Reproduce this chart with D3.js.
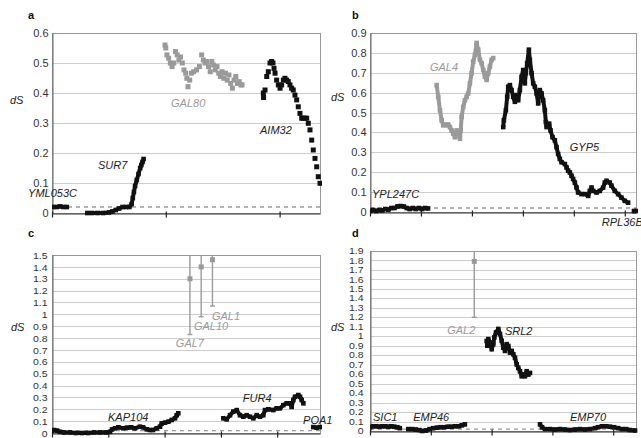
<!DOCTYPE html>
<html>
<head>
<meta charset="utf-8">
<script src="https://cdn.jsdelivr.net/npm/d3@7"></script>
<style>
  body { margin: 0; background: #fff; }
  text { font-family: "Liberation Sans", Arial, sans-serif; }
</style>
</head>
<body>
<div id="fig"></div>
<script>
// ---- data: [position, dS] ----
// panel a
var aYML053C = [[0.1,0.02],[0.4,0.02],[0.7,0.022],[1.0,0.02],[1.3,0.02]];
var aSUR7 = [[3.1,0],[3.5,0],[4.0,0],[4.5,0],[5.0,0.002],[5.3,0.005],[5.6,0.01],[5.9,0.015],[6.2,0.02],[6.5,0.02],
  [6.8,0.02],[7.0,0.03],[7.1,0.05],[7.2,0.07],[7.3,0.09],[7.45,0.11],[7.6,0.13],[7.75,0.15],[7.85,0.16],[7.95,0.17],[8.05,0.18]];
var aGAL80 = [[9.93,0.56],[10.0,0.55],[10.1,0.527],[10.25,0.516],[10.4,0.5],[10.55,0.488],[10.7,0.5],[10.85,0.538],
  [11.0,0.527],[11.15,0.51],[11.3,0.52],[11.45,0.5],[11.6,0.477],[11.75,0.466],[11.85,0.449],[11.95,0.421],[12.1,0.443],
  [12.25,0.466],[12.45,0.471],[12.7,0.477],[12.95,0.488],[13.15,0.527],[13.3,0.51],[13.45,0.5],[13.6,0.505],[13.75,0.488],
  [13.9,0.471],[14.05,0.505],[14.2,0.493],[14.35,0.477],[14.5,0.488],[14.65,0.466],[14.8,0.455],[14.95,0.471],[15.1,0.449],
  [15.25,0.466],[15.4,0.443],[15.55,0.46],[15.7,0.432],[15.85,0.416],[16.0,0.443],[16.15,0.455],[16.3,0.432],[16.45,0.438],
  [16.6,0.427],[16.7,0.427]];
var aAIM32 = [[18.57,0.4],[18.59,0.385],[18.72,0.41],[18.87,0.455],[19.01,0.471],[19.16,0.5],[19.3,0.505],[19.42,0.5],
  [19.51,0.482],[19.6,0.466],[19.74,0.443],[19.89,0.427],[20.04,0.416],[20.18,0.427],[20.33,0.443],[20.47,0.449],[20.62,0.443],
  [20.76,0.438],[20.91,0.427],[21.06,0.416],[21.2,0.41],[21.35,0.393],[21.5,0.377],[21.64,0.354],[21.79,0.332],[21.94,0.316],
  [22.08,0.316],[22.23,0.316],[22.38,0.316],[22.52,0.299],[22.67,0.277],[22.82,0.243],[22.96,0.21],[23.11,0.182],[23.26,0.154],
  [23.4,0.121],[23.55,0.099]];

// panel b
var bYPL247C = [[0,0.005],[0.6,0.01],[1.2,0.005],[1.8,0.01],[2.4,0.008],[3.0,0.015],[3.6,0.012],[4.2,0.02],[4.8,0.02],
  [5.4,0.028],[6.0,0.03],[6.6,0.028],[7.2,0.02],[7.8,0.015],[8.4,0.02],[9.0,0.015],[9.6,0.02],[10.2,0.015],[10.8,0.02],[11.4,0.018]];
var bGAL4 = [[13.08,0.638],[13.39,0.579],[13.73,0.512],[14.06,0.461],[14.37,0.436],[14.71,0.44],[15.04,0.436],[15.35,0.44],
  [15.69,0.427],[16.02,0.41],[16.33,0.394],[16.67,0.376],[17.0,0.41],[17.31,0.394],[17.65,0.368],[17.8,0.41],[17.98,0.478],
  [18.29,0.528],[18.63,0.562],[18.96,0.579],[19.27,0.596],[19.61,0.647],[19.94,0.698],[20.25,0.756],[20.59,0.79],[20.92,0.85],
  [21.24,0.816],[21.57,0.765],[21.9,0.748],[22.22,0.714],[22.55,0.68],[22.88,0.664],[23.2,0.698],[23.53,0.731],[23.86,0.765],[24.18,0.774]];
var bGYP5 = [[26.14,0.427],[26.27,0.461],[26.67,0.512],[26.92,0.579],[27.12,0.63],[27.45,0.638],[27.78,0.613],[28.1,0.579],
  [28.43,0.554],[28.76,0.588],[29.08,0.562],[29.41,0.613],[29.75,0.68],[30.06,0.714],[30.39,0.647],[30.59,0.698],[30.84,0.748],
  [31.18,0.816],[31.37,0.765],[31.71,0.698],[32.02,0.647],[32.35,0.63],[32.69,0.596],[33.0,0.546],[33.33,0.613],[33.67,0.596],
  [33.98,0.562],[34.31,0.512],[34.51,0.452],[34.65,0.427],[35.16,0.444],[35.43,0.41],[35.82,0.376],[36.27,0.36],[36.61,0.326],
  [36.92,0.292],[37.25,0.267],[37.59,0.25],[38.24,0.241],[38.57,0.224],[38.88,0.208],[39.22,0.199],[39.55,0.182],[39.86,0.166],
  [40.2,0.148],[40.53,0.123],[40.84,0.098],[41.51,0.09],[42.16,0.09],[42.82,0.081],[43.14,0.106],[43.47,0.123],[43.8,0.106],
  [44.45,0.098],[45.1,0.106],[45.75,0.123],[46.08,0.148],[46.41,0.157],[47.06,0.148],[47.39,0.132],[48.04,0.106],[48.69,0.09],
  [49.35,0.072],[50.0,0.056],[50.65,0.047]];
var bRPL36B = [[51.8,0.005],[52.2,0.005]];

// panel c
var cKAP104 = [[0,0.02],[0.36,0.025],[0.9,0.02],[1.42,0.01],[2.13,0.005],[3.2,0.005],[4.26,0],[5.33,0],[6.39,0],[7.46,0.005],
  [8.53,0.005],[9.59,0.005],[10.3,0.01],[10.66,0.03],[11.19,0.04],[11.78,0.048],[12.66,0.04],[13.32,0.045],[14.03,0.048],
  [14.74,0.04],[15.63,0.053],[16.16,0.048],[16.82,0.031],[17.41,0.025],[17.94,0.025],[18.6,0.04],[19.18,0.053],[19.48,0.08],
  [20.07,0.087],[20.66,0.095],[21.26,0.11],[21.85,0.124],[22.15,0.15],[22.43,0.166]];
var cFUR4 = [[30.43,0.124],[31.03,0.115],[31.62,0.15],[32.2,0.18],[32.81,0.193],[33.39,0.15],[33.98,0.137],[34.58,0.15],
  [35.17,0.137],[35.76,0.124],[36.36,0.15],[36.94,0.137],[37.53,0.15],[37.83,0.193],[38.42,0.2],[39.31,0.193],[39.91,0.208],
  [40.5,0.208],[41.08,0.235],[41.69,0.25],[42.27,0.25],[42.57,0.22],[42.86,0.278],[43.16,0.305],[43.75,0.32],[44.05,0.305],
  [44.35,0.278],[44.65,0.25]];
var cPOA1 = [[46.4,0.05],[47.0,0.045],[47.6,0.05]];
// gray genes with error bars: [position, mean, low, high]
var cGAL = [[24.5,1.30,0.83,1.77],[26.5,1.40,0.98,1.82],[28.5,1.46,1.07,1.85]];

// panel d
var dSIC1 = [[0,0.04],[0.5,0.05],[1.0,0.05],[1.5,0.045],[2.0,0.05],[2.5,0.05],[3.0,0.045],[3.5,0.05],[4.0,0.045],[4.5,0.04],[4.9,0.03]];
var dEMP46 = [[6.3,0.02],[6.9,0.02],[7.5,0.015],[8.1,0.01],[8.6,0],[9.2,0.005],[9.8,0.02],[10.4,0.03],[11.0,0.035],[11.6,0.04],
  [12.2,0.04],[12.8,0.045],[13.4,0.045],[14.0,0.05],[14.6,0.05],[15.1,0.06],[15.6,0.07]];
var dSRL2 = [[19.19,0.95],[19.29,0.9],[19.46,0.97],[19.74,0.934],[20.02,0.863],[20.28,0.917],[20.44,0.987],[20.72,1.04],
  [21.1,1.077],[21.38,1.024],[21.66,0.952],[21.92,0.88],[22.2,0.845],[22.48,0.917],[22.75,0.898],[23.03,0.827],[23.31,0.845],
  [23.57,0.81],[23.85,0.773],[24.13,0.703],[24.39,0.666],[24.67,0.631],[24.95,0.578],[25.21,0.596],[25.49,0.578],[25.77,0.631],
  [26.04,0.596],[26.32,0.613]];
var dEMP70 = [[27.96,0.07],[28.29,0.04],[28.78,0.02],[29.6,0.02],[30.43,0.015],[31.25,0.02],[32.07,0.015],[32.89,0.01],
  [33.72,0.015],[34.54,0.02],[35.36,0.015],[36.18,0.02],[37.0,0.03],[37.5,0.04],[38.16,0.05],[38.82,0.05],[39.47,0.045],
  [40.13,0.04],[40.79,0.03],[41.45,0.02],[42.1,0.02],[42.76,0.01],[43.59,0.005]];
var dGAL = [[17.15,1.79,1.2,2.38]];

// gene labels: [name, position, dS, grey?]
var aLabels = [["YML053C",-2.1,0.067,0],["SUR7",4.04,0.16,0],["GAL80",10.46,0.367,1],["AIM32",18.28,0.277,0]];
var bLabels = [["YPL247C",0.4,0.092,0],["GAL4",11.76,0.73,1],["GYP5",39.2,0.325,0],["RPL36B",45.5,-0.05,0]];
var cLabels = [["KAP104",9.95,0.135,0],["FUR4",33.9,0.294,0],["POA1",44.6,0.109,0],["GAL1",28.4,0.99,1],["GAL10",25.2,0.9,1],["GAL7",22.0,0.757,1]];
var dLabels = [["SIC1",0.5,0.148,0],["EMP46",7.1,0.148,0],["EMP70",32.9,0.148,0],["GAL2",12.7,1.07,1],["SRL2",22.2,1.06,0]];

// tick values
var aYTicks = d3.range(0, 7).map(d => d / 10);
var bYTicks = d3.range(0, 10).map(d => d / 10);
var cYTicks = d3.range(0, 16).map(d => d / 10);
var dYTicks = d3.range(0, 20).map(d => d / 10);
var aXTicks = [0, 10, 20];
var bXTicks = [0, 10, 20, 30, 40, 50];
var cXTicks = [0, 10, 20, 30, 40];
var dXTicks = [0, 10, 20, 30, 40];
var neutralDS = 0.02;

var black = "#111", grey = "#9a9a9a";

var panels = [
  {id:"a", left:52, right:320, top:33, bottom:213, xMax:23.55, yMax:0.6, yTicks:aYTicks, xTicks:aXTicks, pad:4, fs:11, squash:1,
   letter:[28,19], ds:[10,104],
   series:[{d:aYML053C},{d:aSUR7},{d:aGAL80,c:grey,noLine:1},{d:aAIM32,noLine:1}], bars:[], labels:aLabels},
  {id:"b", left:370, right:636, top:33, bottom:212, xMax:52.2, yMax:0.9, yTicks:bYTicks, xTicks:bXTicks, pad:4, fs:11, squash:1,
   letter:[352,19], ds:[331,101],
   series:[{d:bYPL247C},{d:bGAL4,c:grey},{d:bGYP5},{d:bRPL36B}], bars:[], labels:bLabels},
  {id:"c", left:52, right:320, top:255, bottom:433, xMax:47.6, yMax:1.5, yTicks:cYTicks, xTicks:cXTicks, pad:5, fs:10.5, squash:0.95,
   letter:[28,237], ds:[11,331],
   series:[{d:cKAP104},{d:cFUR4},{d:cPOA1}], bars:cGAL, labels:cLabels},
  {id:"d", left:370, right:636, top:251, bottom:431, xMax:43.75, yMax:1.9, yTicks:dYTicks, xTicks:dXTicks, pad:7, fs:10.5, squash:0.78,
   letter:[352,237], ds:[331,331],
   series:[{d:dSIC1},{d:dEMP46},{d:dSRL2},{d:dEMP70}], bars:dGAL, labels:dLabels}
];

var svg = d3.select("#fig").append("svg")
  .attr("width", 641)
  .attr("height", 438);

var fmt = d => d3.format("~g")(+d.toFixed(1));

panels.forEach(function(p) {
  var x = d3.scaleLinear().domain([0, p.xMax]).range([p.left, p.right]);
  var y = d3.scaleLinear().domain([0, p.yMax]).range([p.bottom, p.top]);
  var g = svg.append("g");

  svg.append("clipPath").attr("id", "clip-" + p.id)
    .append("rect")
    .attr("x", p.left).attr("y", p.top)
    .attr("width", p.right - p.left + 2).attr("height", p.bottom - p.top + 3);

  // gridlines
  g.selectAll(".grid").data(p.yTicks.filter(d => d > 0)).enter().append("line")
    .attr("x1", p.left).attr("x2", p.right)
    .attr("y1", d => Math.round(y(d)) + 0.5).attr("y2", d => Math.round(y(d)) + 0.5)
    .attr("stroke", "#cdcdcd").attr("stroke-width", 1);

  // frame
  g.append("rect")
    .attr("x", p.left + 0.5).attr("y", Math.round(p.top) + 0.5)
    .attr("width", p.right - p.left).attr("height", p.bottom - p.top)
    .attr("fill", "none").attr("stroke", "#999");

  // neutral dashed line
  g.append("line")
    .attr("x1", p.left).attr("x2", p.right)
    .attr("y1", y(neutralDS)).attr("y2", y(neutralDS))
    .attr("stroke", "#999").attr("stroke-width", 1.3).attr("stroke-dasharray", "4,4");

  // y axis
  var yAxis = d3.axisLeft(y).tickValues(p.yTicks).tickSize(0).tickPadding(p.pad).tickFormat(fmt);
  var ya = g.append("g").attr("transform", `translate(${p.left + 0.5},0)`).call(yAxis);
  ya.select(".domain").attr("stroke", "#666");
  ya.selectAll("text").attr("font-size", p.fs).attr("fill", "#333")
    .attr("transform", `scale(1,${p.squash})`);

  // x axis, tick marks only
  var xAxis = d3.axisBottom(x).tickValues(p.xTicks).tickSize(4).tickSizeOuter(0).tickFormat("");
  var xa = g.append("g").attr("transform", `translate(0,${p.bottom + 0.5})`).call(xAxis);
  xa.select(".domain").attr("stroke", "#333");
  xa.selectAll(".tick line").attr("y1", -2).attr("stroke", "#222").attr("stroke-width", 1.2);

  var plot = g.append("g").attr("clip-path", `url(#clip-${p.id})`);

  // series
  var line = d3.line().x(d => x(d[0])).y(d => y(d[1]));
  p.series.forEach(function(s) {
    var col = s.c || black;
    if (!s.noLine) {
      plot.append("path").datum(s.d)
        .attr("d", line).attr("fill", "none")
        .attr("stroke", col).attr("stroke-width", 4).attr("stroke-linejoin", "round");
    }
    var sz = s.noLine ? 5 : 4.6;
    plot.selectAll(null).data(s.d).enter().append("rect")
      .attr("x", d => x(d[0]) - sz / 2).attr("y", d => y(d[1]) - sz / 2)
      .attr("width", sz).attr("height", sz).attr("fill", col);
  });

  // error bars
  p.bars.forEach(function(b) {
    plot.append("line")
      .attr("x1", x(b[0])).attr("x2", x(b[0]))
      .attr("y1", y(b[2])).attr("y2", y(b[3]))
      .attr("stroke", grey).attr("stroke-width", 1.4);
    plot.append("line")
      .attr("x1", x(b[0]) - 2.5).attr("x2", x(b[0]) + 2.5)
      .attr("y1", y(b[2])).attr("y2", y(b[2]))
      .attr("stroke", grey).attr("stroke-width", 1.4);
    plot.append("rect")
      .attr("x", x(b[0]) - 2.5).attr("y", y(b[1]) - 2.5)
      .attr("width", 5).attr("height", 5).attr("fill", grey);
  });

  // gene labels
  g.selectAll(".lab").data(p.labels).enter().append("text")
    .attr("x", d => x(d[1])).attr("y", d => y(d[2]))
    .attr("dominant-baseline", "central")
    .attr("font-size", 11).attr("font-style", "italic")
    .attr("fill", d => d[3] ? grey : "#222")
    .text(d => d[0]);

  // dS axis title
  g.append("text")
    .attr("x", p.ds[0]).attr("y", p.ds[1])
    .attr("font-size", 11).attr("font-style", "italic").attr("fill", "#222")
    .text("dS");

  // panel letter
  g.append("text")
    .attr("x", p.letter[0]).attr("y", p.letter[1])
    .attr("font-size", 11).attr("font-weight", "bold").attr("fill", "#111")
    .text(p.id);
});
</script>
</body>
</html>
